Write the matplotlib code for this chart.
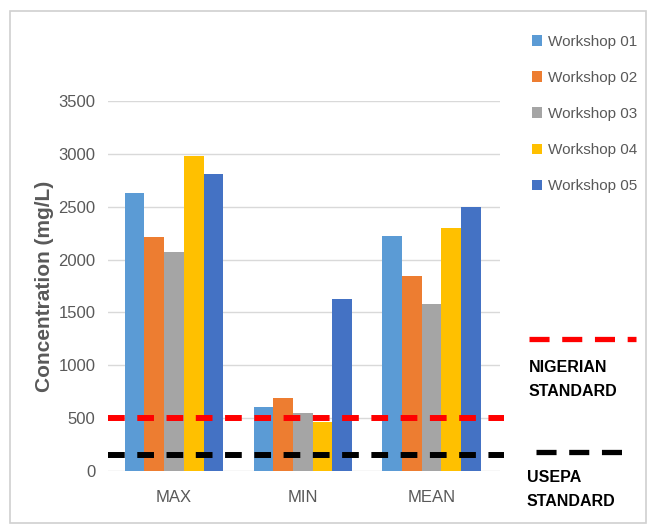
import numpy as np
import matplotlib.pyplot as plt
from matplotlib.lines import Line2D
from matplotlib.patches import Rectangle

plt.rcParams['font.family'] = ['Liberation Sans', 'DejaVu Sans']

categories = ['MAX', 'MIN', 'MEAN']
workshops = ['Workshop 01', 'Workshop 02', 'Workshop 03', 'Workshop 04', 'Workshop 05']
ws01 = [2630, 605, 2220]
ws02 = [2210, 690, 1840]
ws03 = [2075, 545, 1580]
ws04 = [2980, 460, 2295]
ws05 = [2810, 1630, 2495]
nigerian_std = 500
usepa_std = 150
yticks = [0, 500, 1000, 1500, 2000, 2500, 3000, 3500]

colors = ['#5B9BD5', '#ED7D31', '#A5A5A5', '#FFC000', '#4472C4']
series = [ws01, ws02, ws03, ws04, ws05]

fig = plt.figure(figsize=(6.51, 5.25), dpi=100)
ax = fig.add_axes([108 / 651, 54 / 525, 392 / 651, 370 / 525])

# outer chart frame
fig.patches.append(Rectangle((10 / 651, 2 / 525), 636 / 651, 512 / 525,
                             transform=fig.transFigure, fill=False,
                             edgecolor='#D0D0D0', linewidth=1.2))

x = np.arange(len(categories))
w = 0.153
bars = []
for i, (vals, c) in enumerate(zip(series, colors)):
    b = ax.bar(x + (i - 2) * w, vals, w, color=c, label=workshops[i], zorder=2)
    bars.append(b)

ax.set_xlim(-0.512, 2.531)
ax.set_ylim(0, 3500)
ax.set_yticks(yticks)
ax.yaxis.grid(True, color='#D9D9D9', linewidth=1, zorder=0)
ax.set_axisbelow(True)
for s in ax.spines.values():
    s.set_visible(False)
ax.tick_params(axis='both', length=0, labelcolor='#595959', labelsize=12)
ax.tick_params(axis='y', pad=9)
ax.tick_params(axis='x', pad=14)
ax.set_xticks(x)
ax.set_xticklabels(categories)
ax.set_ylabel('Concentration (mg/L)', color='#595959', fontsize=15,
              fontweight='bold', labelpad=3)

# standard limits
ax.axhline(nigerian_std, xmin=0, xmax=1.01, color='#FF0000', lw=4.3,
           linestyle=(0, (2.8, 2.1)), clip_on=False, zorder=3)
ax.axhline(usepa_std, xmin=0, xmax=1.01, color='black', lw=4.3,
           linestyle=(0, (2.8, 2.1)), clip_on=False, zorder=3)

fig.legend(handles=bars, labels=workshops, loc='upper left',
           bbox_to_anchor=(518 / 651, 1 - 21 / 525), frameon=False,
           fontsize=11, labelcolor='#595959', handlelength=0.7,
           handleheight=0.7, handletextpad=0.35, labelspacing=1.45)

# key for the standard lines
fig.add_artist(Line2D([529 / 651, 636 / 651], [1 - 339 / 525, 1 - 339 / 525],
                      color='#FF0000', lw=3.8, linestyle=(0, (3.8, 2.4))))
fig.text(529 / 651, 1 - 368 / 525, 'NIGERIAN', fontsize=11.5,
         fontweight='bold', color='black', va='center', ha='left')
fig.text(529 / 651, 1 - 392 / 525, 'STANDARD', fontsize=11.5,
         fontweight='bold', color='black', va='center', ha='left')
fig.add_artist(Line2D([536 / 651, 633 / 651], [1 - 452 / 525, 1 - 452 / 525],
                      color='black', lw=3.8, linestyle=(0, (3.8, 2.4))))
fig.text(527 / 651, 1 - 478 / 525, 'USEPA', fontsize=11.5,
         fontweight='bold', color='black', va='center', ha='left')
fig.text(527 / 651, 1 - 502 / 525, 'STANDARD', fontsize=11.5,
         fontweight='bold', color='black', va='center', ha='left')

fig.savefig('out.png', dpi=100)
